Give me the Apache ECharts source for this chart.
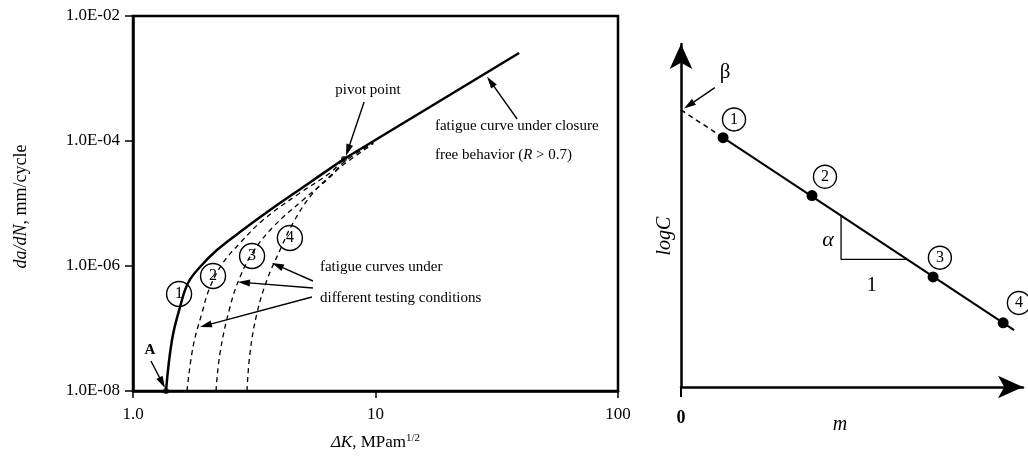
<!DOCTYPE html>
<html>
<head>
<meta charset="utf-8">
<script src="https://cdn.jsdelivr.net/npm/echarts@6/dist/echarts.min.js"></script>
<style>
  html, body { margin: 0; padding: 0; background: #fff; }
  #chart { width: 1028px; height: 461px; }
</style>
</head>
<body>
<div id="chart"></div>
<script>
const FONT = '"Liberation Serif", "Times New Roman", serif';

// ---- Left panel: fatigue crack growth curves ----
const xTickValues = [1, 10, 100];
const xTickLabels = ['1.0', '10', '100'];
const yTickValues = [1e-8, 1e-6, 1e-4, 1e-2];
const yTickLabels = ['1.0E-08', '1.0E-06', '1.0E-04', '1.0E-02'];

// closure-free curve (1), ΔK in MPa·m^1/2, da/dN in mm/cycle: near-threshold part up to the pivot
const curve1DK   = [1.368, 1.448, 1.563, 1.686, 1.889, 2.219, 2.762, 3.673, 5.22, 7.41];
const curve1Rate = [1e-8, 6.55e-8, 2.21e-7, 5.35e-7, 9.64e-7, 1.80e-6, 3.50e-6, 7.87e-6, 2.02e-5, 5.15e-5];
// straight Paris-regime part, pivot to end
const parisDK    = [7.41, 39.1];
const parisRate  = [5.15e-5, 2.56e-3];

// curves under different testing conditions (2)-(4)
const curve2DK   = [1.670, 1.768, 1.925, 2.078, 2.350, 2.762, 3.437, 4.746, 6.494, 7.41, 9.8];
const curve2Rate = [1e-8, 5.06e-8, 1.77e-7, 4.61e-7, 1.12e-6, 2.33e-6, 5.44e-6, 1.37e-5, 3.08e-5, 5.0e-5, 9.7e-5];
const curve3DK   = [2.199, 2.285, 2.512, 2.762, 3.125, 3.779, 5.023, 6.494, 7.345, 9.8];
const curve3Rate = [1e-8, 4.06e-8, 2.21e-7, 6.67e-7, 1.67e-6, 4.21e-6, 1.14e-5, 2.65e-5, 4.45e-5, 9.4e-5];
const curve4DK   = [2.952, 3.037, 3.246, 3.569, 4.040, 4.569, 5.525, 6.937, 7.63, 9.8];
const curve4Rate = [1e-8, 4.06e-8, 1.77e-7, 5.97e-7, 1.80e-6, 4.88e-6, 1.47e-5, 3.44e-5, 4.61e-5, 9.1e-5];

const pointA     = [1.368, 1e-8];
const pivotPoint = [7.41, 5.15e-5];

// ---- Right panel: log C versus m ----
const mValues    = [1.23, 3.83, 7.37, 9.42];
const logCValues = [7.27, 5.58, 3.21, 1.87];
const fitM       = [0, 1.23, 9.74];
const fitLogC    = [8.08, 7.27, 1.66];
const slopeM     = [4.68, 4.68, 6.61];
const slopeLogC  = [4.99, 3.72, 3.72];

const zip = (a, b) => a.map((v, i) => [v, b[i]]);
const nearestLabel = (v, vals, labels) => {
  let best = 0;
  vals.forEach((t, i) => { if (Math.abs(Math.log10(t) - Math.log10(v)) < Math.abs(Math.log10(vals[best]) - Math.log10(v))) best = i; });
  return labels[best];
};

const chart = echarts.init(document.getElementById('chart'), null, { renderer: 'canvas' });

const tickFont = { fontFamily: FONT, fontSize: 17, color: '#000' };
const dashed = { color: '#000', width: 1.3, type: [5, 4] };

const option = {
  animation: false,
  backgroundColor: '#fff',
  textStyle: { fontFamily: FONT, color: '#000' },
  grid: [
    { left: 133, top: 16, width: 485, height: 375, containLabel: false, outerBoundsMode: 'none',
      show: true, borderColor: '#000', borderWidth: 2.5, backgroundColor: 'transparent' },
    { left: 681, top: 44, width: 342, height: 343, containLabel: false, outerBoundsMode: 'none' }
  ],
  xAxis: [
    {
      gridIndex: 0, type: 'log', logBase: 10, min: 1, max: 100, interval: 1,
      axisLine: { lineStyle: { color: '#000', width: 2.5 } },
      axisTick: { show: true, inside: false, length: 7, lineStyle: { color: '#000', width: 1.5 } },
      minorTick: { show: false },
      splitLine: { show: false },
      axisLabel: { ...tickFont, margin: 15, formatter: v => nearestLabel(v, xTickValues, xTickLabels) },
      name: '{i|ΔK}{r|, MPam}{s|1/2}',
      nameLocation: 'middle', nameGap: 42,
      nameTextStyle: {
        rich: {
          i: { fontFamily: FONT, fontSize: 17, fontStyle: 'italic', color: '#000' },
          r: { fontFamily: FONT, fontSize: 17, color: '#000' },
          s: { fontFamily: FONT, fontSize: 11, color: '#000', verticalAlign: 'bottom', padding: [0, 0, 8, 0] }
        }
      }
    },
    {
      gridIndex: 1, type: 'value', min: 0, max: 10,
      axisLine: { symbol: ['none', 'arrow'], symbolSize: [17, 25], lineStyle: { color: '#000', width: 2.5 } },
      axisTick: { show: true, customValues: [0], length: 10, lineStyle: { color: '#000', width: 2 } },
      axisLabel: { customValues: [0], fontFamily: FONT, fontSize: 18, fontWeight: 'bold', color: '#000', margin: 22,
                   formatter: v => String(Math.round(v)) },
      splitLine: { show: false }
    }
  ],
  yAxis: [
    {
      gridIndex: 0, type: 'log', logBase: 10, min: 1e-8, max: 1e-2, interval: 2,
      axisLine: { lineStyle: { color: '#000', width: 2.5 } },
      axisTick: { show: true, inside: false, length: 8, lineStyle: { color: '#000', width: 1.5 } },
      minorTick: { show: false },
      splitLine: { show: false },
      axisLabel: { ...tickFont, margin: 13, formatter: v => nearestLabel(v, yTickValues, yTickLabels) },
      name: '{i|da/dN}{r|, mm/cycle}',
      nameLocation: 'middle', nameGap: 103, nameRotate: 90,
      nameTextStyle: {
        padding: [0, 6, 0, 0],
        rich: {
          i: { fontFamily: FONT, fontSize: 18, fontStyle: 'italic', color: '#000' },
          r: { fontFamily: FONT, fontSize: 18, color: '#000' }
        }
      }
    },
    {
      gridIndex: 1, type: 'value', min: 0, max: 10,
      axisLine: { symbol: ['none', 'arrow'], symbolSize: [17, 25], lineStyle: { color: '#000', width: 2.5 } },
      axisTick: { show: false },
      axisLabel: { show: false },
      splitLine: { show: false }
    }
  ],
  series: [
    { name: 'curve1', type: 'line', xAxisIndex: 0, yAxisIndex: 0, data: zip(curve1DK, curve1Rate),
      symbol: 'none', smooth: 0.4, lineStyle: { color: '#000', width: 2.5 } },
    { name: 'paris', type: 'line', xAxisIndex: 0, yAxisIndex: 0, data: zip(parisDK, parisRate),
      symbol: 'none', lineStyle: { color: '#000', width: 2.5 } },
    { name: 'curve2', type: 'line', xAxisIndex: 0, yAxisIndex: 0, data: zip(curve2DK, curve2Rate),
      symbol: 'none', smooth: 0.4, lineStyle: dashed },
    { name: 'curve3', type: 'line', xAxisIndex: 0, yAxisIndex: 0, data: zip(curve3DK, curve3Rate),
      symbol: 'none', smooth: 0.4, lineStyle: dashed },
    { name: 'curve4', type: 'line', xAxisIndex: 0, yAxisIndex: 0, data: zip(curve4DK, curve4Rate),
      symbol: 'none', smooth: 0.4, lineStyle: dashed },
    { name: 'marks', type: 'scatter', xAxisIndex: 0, yAxisIndex: 0, data: [pointA, pivotPoint],
      symbolSize: 6, clip: false, itemStyle: { color: '#000' } },

    { name: 'extrapolation', type: 'line', xAxisIndex: 1, yAxisIndex: 1,
      data: zip(fitM.slice(0, 2), fitLogC.slice(0, 2)), symbol: 'none', clip: false,
      lineStyle: { color: '#000', width: 1.5, type: [5, 4] } },
    { name: 'fit', type: 'line', xAxisIndex: 1, yAxisIndex: 1,
      data: zip(fitM.slice(1), fitLogC.slice(1)), symbol: 'none',
      lineStyle: { color: '#000', width: 2 } },
    { name: 'slope', type: 'line', xAxisIndex: 1, yAxisIndex: 1,
      data: zip(slopeM, slopeLogC), symbol: 'none',
      lineStyle: { color: '#000', width: 1.3 } },
    { name: 'points', type: 'scatter', xAxisIndex: 1, yAxisIndex: 1,
      data: zip(mValues, logCValues), symbolSize: 11, itemStyle: { color: '#000', opacity: 1 } }
  ]
};

chart.setOption(option);

// ---- annotations, anchored to axis coordinates ----
const L = (lx, ly) => chart.convertToPixel({ gridIndex: 0 }, [Math.pow(10, lx), Math.pow(10, ly)]);
const R = (x, y) => chart.convertToPixel({ gridIndex: 1 }, [x, y]);

function arrow(p0, p1, head = 12, width = 7, lw = 1.4) {
  const dx = p1[0] - p0[0], dy = p1[1] - p0[1];
  const len = Math.hypot(dx, dy), ux = dx / len, uy = dy / len;
  const bx = p1[0] - ux * head, by = p1[1] - uy * head;
  const nx = -uy, ny = ux;
  return [
    { type: 'line', silent: true, shape: { x1: p0[0], y1: p0[1], x2: bx + ux, y2: by + uy },
      style: { stroke: '#000', lineWidth: lw } },
    { type: 'polygon', silent: true,
      shape: { points: [[p1[0], p1[1]], [bx + nx * width / 2, by + ny * width / 2], [bx - nx * width / 2, by - ny * width / 2]] },
      style: { fill: '#000' } }
  ];
}
function text(p, str, opts = {}) {
  return { type: 'text', silent: true, x: p[0], y: p[1],
    style: Object.assign({ text: str, fontFamily: FONT, fontSize: 15, fill: '#000',
      align: 'center', verticalAlign: 'middle', textAlign: 'center', textVerticalAlign: 'middle' }, opts) };
}
function circled(p, str, r = 12.5, size = 16) {
  return [
    { type: 'circle', silent: true, shape: { cx: p[0], cy: p[1], r: r }, style: { fill: 'none', stroke: '#000', lineWidth: 1.4 } },
    text(p, str, { fontSize: size })
  ];
}

const g = [];
// left panel
g.push(text(L(0.070, -7.344), 'A', { fontWeight: 'bold', fontSize: 15 }));
g.push(...arrow(L(0.074, -7.52), L(0.132, -7.952)));
g.push(text(L(0.969, -3.184), 'pivot point', { fontSize: 15 }));
g.push(...arrow(L(0.953, -3.376), L(0.878, -4.24)));
g.push(text(L(1.245, -3.76), 'fatigue curve under closure', { fontSize: 15, align: 'left', textAlign: 'left' }));
g.push(text(L(1.245, -4.224), 'free behavior ({i|R} > 0.7)', { fontSize: 15, align: 'left', textAlign: 'left',
  rich: { i: { fontFamily: FONT, fontSize: 15, fontStyle: 'italic', fill: '#000' } } }));
g.push(...arrow(L(1.584, -3.648), L(1.460, -2.97)));
g.push(text(L(0.771, -6.016), 'fatigue curves under', { fontSize: 15, align: 'left', textAlign: 'left' }));
g.push(text(L(0.771, -6.512), 'different testing conditions', { fontSize: 15, align: 'left', textAlign: 'left' }));
g.push(...arrow(L(0.742, -6.24), L(0.573, -5.952)));
g.push(...arrow(L(0.742, -6.352), L(0.433, -6.256)));
g.push(...arrow(L(0.738, -6.496), L(0.276, -6.976)));
g.push(...circled(L(0.190, -6.448), '1'));
g.push(...circled(L(0.330, -6.16), '2'));
g.push(...circled(L(0.491, -5.84), '3'));
g.push(...circled(L(0.647, -5.552), '4'));

// right panel
g.push(text(R(1.29, 9.17), 'β', { fontSize: 21 }));
g.push(...arrow(R(0.99, 8.73), R(0.09, 8.12)));
g.push(...circled(R(1.55, 7.80), '1', 11.5, 16));
g.push(...circled(R(4.21, 6.13), '2', 11.5, 16));
g.push(...circled(R(7.57, 3.77), '3', 11.5, 16));
g.push(...circled(R(9.88, 2.45), '4', 11.5, 16));
g.push(text(R(4.30, 4.29), 'α', { fontSize: 22, fontStyle: 'italic' }));
g.push(text(R(5.58, 2.95), '1', { fontSize: 20 }));
g.push(text(R(4.65, -1.11), 'm', { fontSize: 20, fontStyle: 'italic' }));
g.push(Object.assign(text(R(-0.47, 4.4), 'logC', { fontSize: 20, fontStyle: 'italic' }), { rotation: Math.PI / 2 }));

chart.setOption({ graphic: g });
</script>
</body>
</html>
